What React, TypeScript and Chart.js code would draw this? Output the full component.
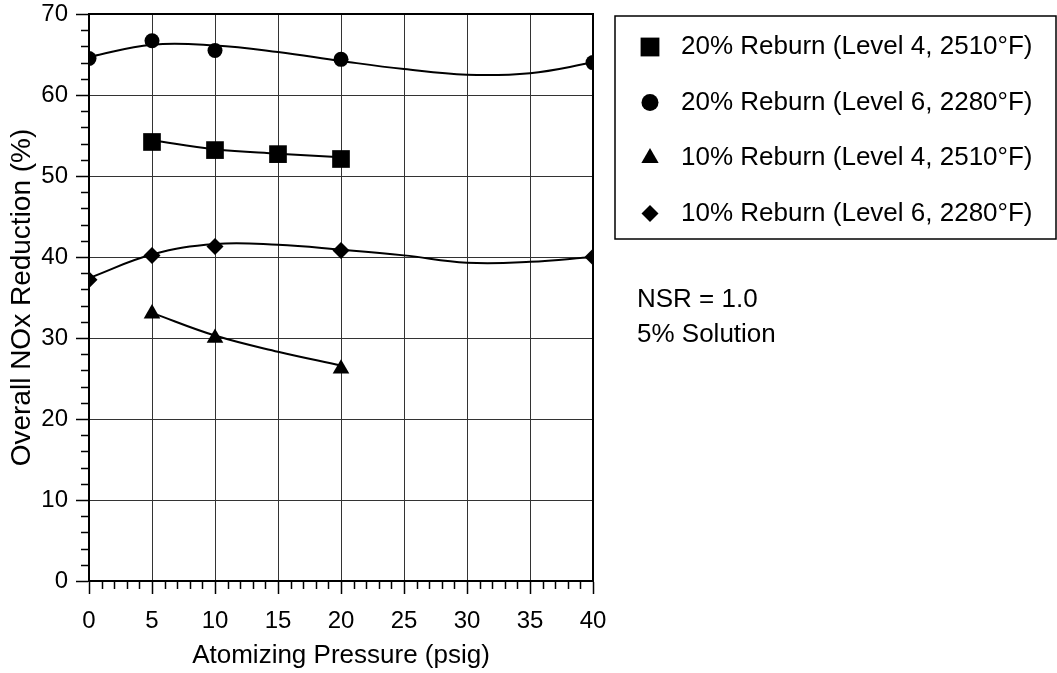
import React, { useEffect, useRef } from 'react';
import { Chart, registerables } from 'chart.js';
import { drawPoint } from 'chart.js/helpers';

Chart.register(...registerables);

const FONT = '"Liberation Sans", Arial, Helvetica, sans-serif';

// Measured points
const pressureSq = [5, 10, 15, 20];
const reburn20Level4 = [54.2, 53.2, 52.7, 52.1];
const pressureCi = [0, 5, 10, 20, 40];
const reburn20Level6 = [64.5, 66.7, 65.5, 64.4, 64.0];
const pressureTr = [5, 10, 20];
const reburn10Level4 = [33.0, 30.0, 26.2];
const pressureDi = [0, 5, 10, 20, 40];
const reburn10Level6 = [37.2, 40.2, 41.3, 40.8, 40.0];

// Smoothed trend curves
const fitXSq = [5, 10, 15, 20];
const fitSq = [54.4, 53.3, 52.75, 52.3];
const fitXCi = [0, 5, 10, 15, 20, 25, 30, 35, 40];
const fitCi = [64.7, 66.2, 66.1, 65.3, 64.2, 63.2, 62.5, 62.7, 64.0];
const fitXTr = [5, 10, 15, 20];
const fitTr = [33.1, 30.3, 28.3, 26.6];
const fitXDi = [0, 5, 10, 15, 20, 25, 30, 35, 40];
const fitDi = [37.4, 40.3, 41.6, 41.5, 40.9, 40.2, 39.3, 39.4, 40.0];

const legendLabels = [
  '20% Reburn (Level 4, 2510°F)',
  '20% Reburn (Level 6, 2280°F)',
  '10% Reburn (Level 4, 2510°F)',
  '10% Reburn (Level 6, 2280°F)',
];
const legendStyles = ['rect', 'circle', 'triangle', 'rectRot'];
const legendRadii = [13.3, 8.5, 10, 8.5];
const noteLines = ['NSR = 1.0', '5% Solution'];

const pts = (xs: number[], ys: number[]) => xs.map((x, i) => ({ x, y: ys[i] }));

const curve = (xs: number[], ys: number[]) => ({
  data: pts(xs, ys),
  borderColor: '#000',
  borderWidth: 2,
  pointRadius: 0,
  tension: 0.4,
  fill: false,
  showLine: true,
  order: 2,
});

const markers = (xs: number[], ys: number[], style: string, r: number) => ({
  data: pts(xs, ys),
  pointStyle: style,
  pointRadius: r,
  backgroundColor: '#000',
  borderColor: '#000',
  borderWidth: 0,
  showLine: false,
  order: 1,
});

const framePlugin = {
  id: 'frameAndMinorTicks',
  beforeDatasetsDraw(chart: any) {
    const { ctx, chartArea: a, scales } = chart;
    ctx.save();
    ctx.strokeStyle = '#000';
    ctx.lineWidth = 2;
    ctx.strokeRect(a.left, a.top, a.right - a.left, a.bottom - a.top);
    ctx.lineWidth = 1.5;
    ctx.beginPath();
    for (let v = 0; v <= 40; v += 1) {
      if (v % 5 === 0) continue;
      const px = Math.round(scales.x.getPixelForValue(v)) + 0.5;
      ctx.moveTo(px, a.bottom);
      ctx.lineTo(px, a.bottom + 8);
    }
    for (let v = 0; v <= 70; v += 2) {
      if (v % 10 === 0) continue;
      const py = Math.round(scales.y.getPixelForValue(v)) + 0.5;
      ctx.moveTo(a.left - 8, py);
      ctx.lineTo(a.left, py);
    }
    ctx.stroke();
    ctx.restore();
  },
};

const legendPlugin = {
  id: 'boxedLegend',
  afterDraw(chart: any) {
    const { ctx } = chart;
    ctx.save();
    ctx.strokeStyle = '#000';
    ctx.lineWidth = 1.5;
    ctx.strokeRect(615, 16, 441, 223);
    ctx.fillStyle = '#000';
    ctx.font = `26px ${FONT}`;
    ctx.textBaseline = 'middle';
    ctx.textAlign = 'left';
    legendLabels.forEach((label, i) => {
      const y = 47 + i * 55.5;
      drawPoint(ctx, { pointStyle: legendStyles[i], radius: legendRadii[i], rotation: 0, borderWidth: 0 }, 650, y);
      ctx.fillText(label, 681, y);
    });
    noteLines.forEach((t, i) => ctx.fillText(t, 637, 300 + i * 35));
    ctx.restore();
  },
};

export default function App() {
  const ref = useRef<HTMLCanvasElement>(null);
  useEffect(() => {
    document.body.style.margin = '0';
    const tickFont = { family: FONT, size: 24 };
    const chart = new Chart(ref.current as HTMLCanvasElement, {
      type: 'line',
      data: {
        datasets: [
          curve(fitXSq, fitSq),
          curve(fitXCi, fitCi),
          curve(fitXTr, fitTr),
          curve(fitXDi, fitDi),
          markers(pressureSq, reburn20Level4, 'rect', 12.5),
          markers(pressureCi, reburn20Level6, 'circle', 7.5),
          markers(pressureTr, reburn10Level4, 'triangle', 9.6),
          markers(pressureDi, reburn10Level6, 'rectRot', 8.5),
        ] as any,
      },
      options: {
        responsive: false,
        animation: false,
        layout: { padding: { left: 0, top: 14, right: 464, bottom: 0 } },
        plugins: { legend: { display: false }, tooltip: { enabled: false } },
        scales: {
          x: {
            type: 'linear',
            min: 0,
            max: 40,
            ticks: { stepSize: 5, color: '#000', font: tickFont, padding: 13, maxRotation: 0 },
            grid: { color: '#333', lineWidth: 1, tickLength: 13, tickColor: '#000', tickWidth: 1.5 },
            border: { color: '#000', width: 2 },
            title: {
              display: true,
              text: 'Atomizing Pressure (psig)',
              color: '#000',
              font: { family: FONT, size: 26 },
              padding: { top: 0, bottom: 2 },
            },
            afterFit(s: any) {
              s.height = 92;
              s.paddingLeft = 0;
              s.paddingRight = 0;
            },
          },
          y: {
            min: 0,
            max: 70,
            ticks: { stepSize: 10, color: '#000', font: tickFont, padding: 8 },
            grid: { color: '#333', lineWidth: 1, tickLength: 13, tickColor: '#000', tickWidth: 1.5 },
            border: { color: '#000', width: 2 },
            title: {
              display: true,
              text: 'Overall NOx Reduction (%)',
              color: '#000',
              font: { family: FONT, size: 28 },
              padding: { top: 5, bottom: 0 },
            },
            afterFit(s: any) {
              s.width = 89;
              s.paddingTop = 0;
              s.paddingBottom = 0;
            },
          },
        },
      } as any,
      plugins: [framePlugin, legendPlugin],
    });
    return () => chart.destroy();
  }, []);
  return <canvas ref={ref} width={1057} height={673} style={{ display: 'block' }} />;
}
